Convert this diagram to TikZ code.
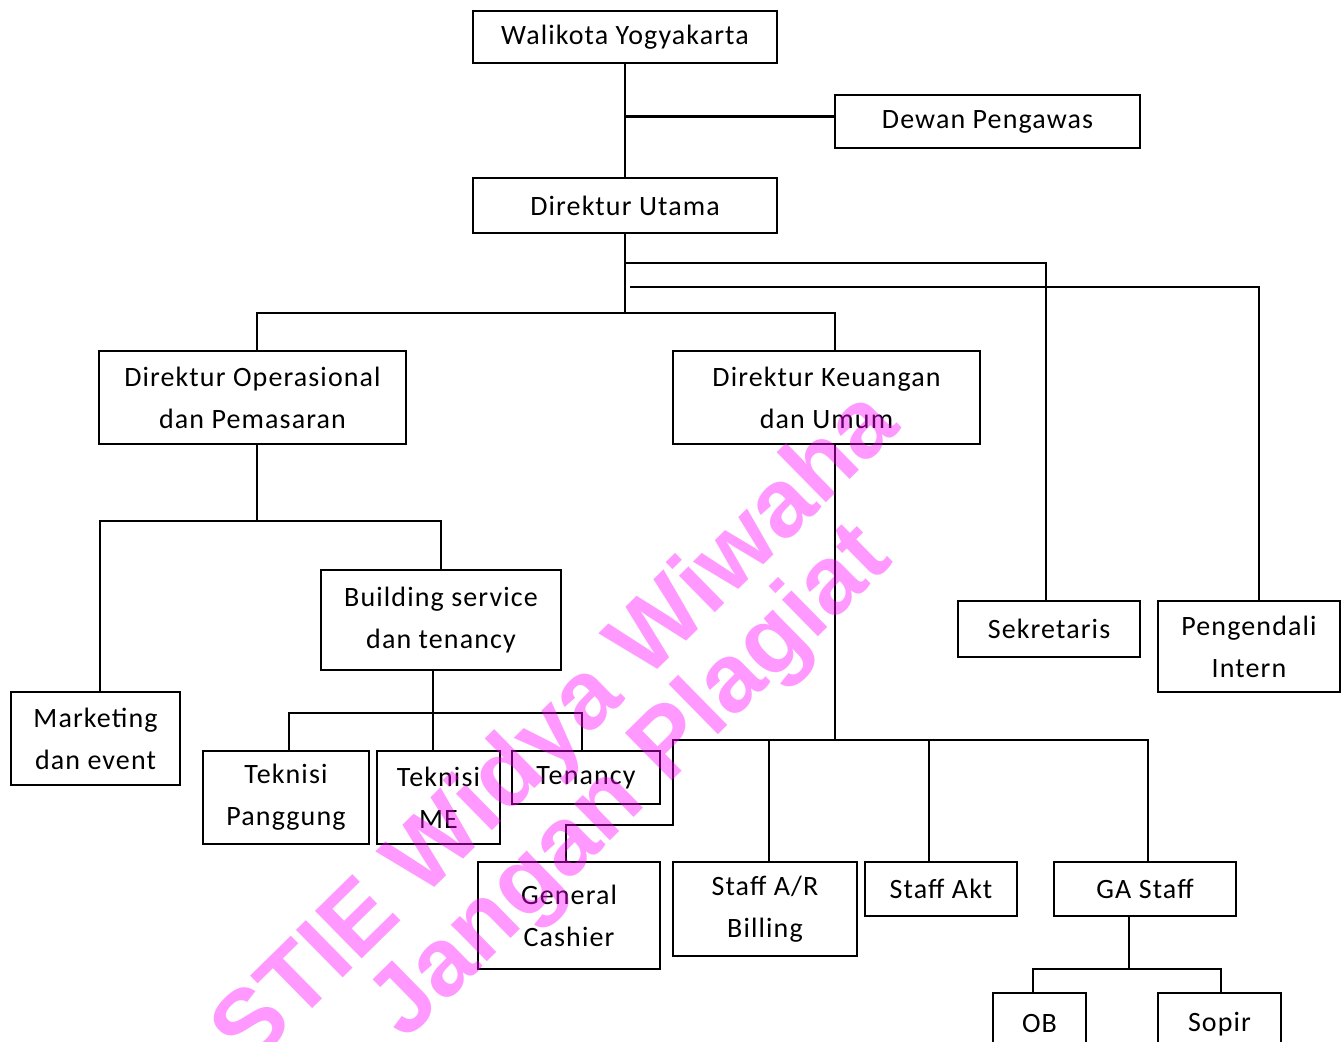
\documentclass[tikz,border=0pt]{standalone}
\usepackage{fontspec}
\setmainfont{Carlito}[LetterSpace=4.0]
\newfontfamily\wmfont{Liberation Sans}
\definecolor{wmc}{RGB}{255,0,255}
\begin{document}
\begin{tikzpicture}[x=0.5pt,y=-0.5pt,
  box/.style={draw=black, line width=1.2pt, inner sep=0pt, align=center,
    font=\fontsize{14}{21}\selectfont},
  conn/.style={draw=black, line width=1.2pt},
  wm/.style={rotate=44.5, anchor=base, text=wmc, text opacity=0.4,
    font=\wmfont\bfseries\fontsize{48.5}{50}\selectfont}]
\useasboundingbox (0,0) rectangle (1343,1042);
\clip (0,0) rectangle (1343,1042);
% boxes
\node[box, minimum width=152pt, minimum height=26pt] (wali) at (625,37) {Walikota Yogyakarta};
\node[box, minimum width=152.5pt, minimum height=26.5pt] (dewan) at (987.5,121.5) {Dewan Pengawas};
\node[box, minimum width=152pt, minimum height=27.5pt] (dirut) at (625,205.5) {Direktur Utama};
\node[box, minimum width=153.5pt, minimum height=46.5pt] (dirops) at (252.5,397.5) {Direktur Operasional\\dan Pemasaran};
\node[box, minimum width=153.5pt, minimum height=46.5pt] (dirkeu) at (826.5,397.5) {Direktur Keuangan\\dan Umum};
\node[box, minimum width=91pt, minimum height=28pt] (sek) at (1049,629) {Sekretaris};
\node[box, minimum width=91pt, minimum height=45.5pt] (pi) at (1249,646.5) {Pengendali\\Intern};
\node[box, minimum width=120pt, minimum height=50pt] (bld) at (441,620) {Building service\\dan tenancy};
\node[box, minimum width=84.5pt, minimum height=46.5pt] (mkt) at (95.5,738.5) {Marketing\\dan event};
\node[box, minimum width=83pt, minimum height=46.5pt] (tp) at (286,797.5) {Teknisi\\Panggung};
\node[box, minimum width=61.5pt, minimum height=46.5pt] (tme) at (438.5,797.5) {Teknisi\\ME};
\node[box, minimum width=74pt, minimum height=26.5pt] (ten) at (586,777.5) {Tenancy};
\node[box, minimum width=91pt, minimum height=53.5pt] (gc) at (569,915.5) {General\\Cashier};
\node[box, minimum width=92pt, minimum height=47pt] (sar) at (765,909) {Staff A/R\\Billing};
\node[box, minimum width=76pt, minimum height=27pt] (sakt) at (941,889) {Staff Akt};
\node[box, minimum width=91pt, minimum height=27pt] (ga) at (1145,889) {GA Staff};
\node[box, minimum width=46.5pt, minimum height=31pt] (ob) at (1039.5,1024) {OB};
\node[box, minimum width=61.5pt, minimum height=31pt] (sopir) at (1219.5,1024) {Sopir};
% junctions
\coordinate (j1) at (625,313);
\coordinate (j2) at (625,263);
\coordinate (j3) at (630,287);
\coordinate (j4) at (257,521);
\coordinate (j5) at (433,713);
\coordinate (j6) at (835,740);
\coordinate (j7) at (673,825);
\coordinate (j8) at (1129,969);
% connectors
\draw[conn] (wali.south) -- (dirut.north);
\draw[conn] ([yshift=2.5pt]dewan.west) -- ([yshift=2.5pt]dewan.west -| wali.south);
\draw[conn] (dirut.south) -- (j1);
\draw[conn] ([xshift=2.25pt]dirops.north) |- (j1) -| ([xshift=4.25pt]dirkeu.north);
\draw[conn] (j2) -| ([xshift=-1.5pt]sek.north);
\draw[conn] (j3) -| ([xshift=5pt]pi.north);
\draw[conn] ([xshift=2.25pt]dirops.south) -- (j4);
\draw[conn] ([xshift=2.25pt]mkt.north) |- (j4) -| (bld.north);
\draw[conn] ([xshift=-4pt]bld.south) -- ([xshift=-2.75pt]tme.north);
\draw[conn] ([xshift=1.5pt]tp.north) |- (j5) -| ([xshift=-2pt]ten.north);
\draw[conn] ([xshift=4.25pt]dirkeu.south) -- (j6);
\draw[conn] (j6) -| ([xshift=1.5pt]ga.north);
\draw[conn] (j6) -| (j7) -| ([xshift=-1.5pt]gc.north);
\draw[conn] ([xshift=2pt]sar.north) |- (j6);
\draw[conn] ([xshift=-6pt]sakt.north) |- (j6);
\draw[conn] ([xshift=-8pt]ga.south) -- (j8);
\draw[conn] ([xshift=-3.25pt]ob.north) |- (j8) -| ([xshift=0.75pt]sopir.north);
% watermark
\node[wm] (wm1) at (576,749) {STIE Widya Wiwaha};
\node[wm] (wm2) at (650,802) {Jangan Plagiat};
\end{tikzpicture}
\end{document}
